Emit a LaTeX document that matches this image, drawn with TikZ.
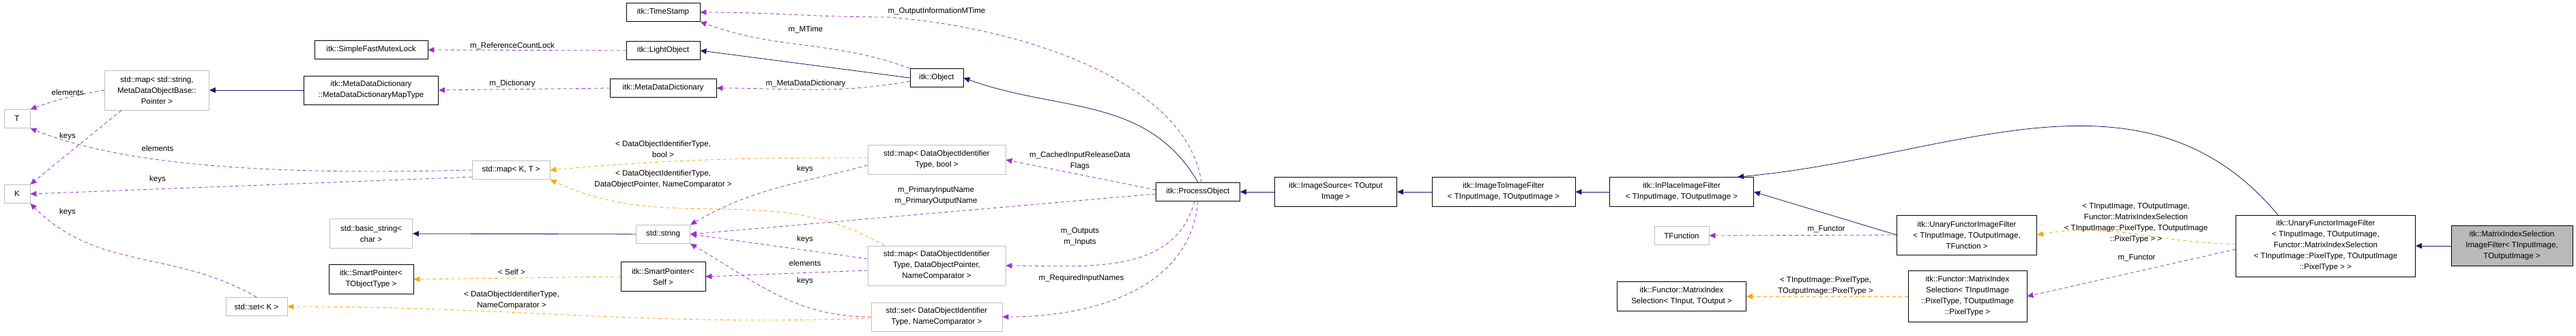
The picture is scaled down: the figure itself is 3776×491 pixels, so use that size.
\documentclass[tikz,border=0pt]{standalone}
\usepackage{fontspec}
\setmainfont{Liberation Sans}
\usetikzlibrary{arrows.meta}
\definecolor{navy}{HTML}{191970}
\definecolor{usecol}{HTML}{9A32CD}
\definecolor{tmplcol}{HTML}{FFA500}
\definecolor{undoccol}{HTML}{BFBFBF}

\begin{document}
\begin{tikzpicture}[x=1pt, y=-1pt, font=\fontsize{11.5}{16}\selectfont,
    box/.style = {draw, rectangle, align=center, inner sep=0pt, line width=0.9pt},
    doc/.style = {box, black},
    undoc/.style = {box, draw=undoccol},
    inh/.style = {navy, line width=0.8pt, -{Triangle[length=9pt,width=8pt]}},
    use/.style = {usecol, dashed, dash pattern=on 5pt off 4pt, line width=0.8pt, -{Triangle[length=9pt,width=8pt]}},
    tmpl/.style = {tmplcol, dashed, dash pattern=on 5pt off 4pt, line width=0.8pt, -{Triangle[length=9pt,width=8pt]}},
    lbl/.style = {align=center, inner sep=0pt}]

    \useasboundingbox (0,0) rectangle (3776,491);

    % left part
    \node[undoc, minimum width=38, minimum height=27] (T) at (25,174) {T};
    \node[undoc, minimum width=153, minimum height=58] (mapstr) at (230,132) {std::map< std::string,\\MetaDataObjectBase::\\Pointer >};
    \node[undoc, minimum width=38, minimum height=27] (K) at (25,284) {K};
    \node[doc, minimum width=166, minimum height=27] (mutex) at (544,73) {itk::SimpleFastMutexLock};
    \node[doc, minimum width=197, minimum height=42] (mddmap) at (544,132) {itk::MetaDataDictionary\\::MetaDataDictionaryMapType};
    \node[undoc, minimum width=114, minimum height=27] (mapkt) at (749,249) {std::map< K, T >};
    \node[undoc, minimum width=121, minimum height=43] (bstr) at (544,342) {std::basic\_string<\\char >};
    \node[doc, minimum width=124, minimum height=43] (sptr) at (544,409) {itk::SmartPointer<\\TObjectType >};
    \node[undoc, minimum width=90, minimum height=27] (setk) at (376,449) {std::set< K >};

    % middle part
    \node[doc, minimum width=108, minimum height=27] (tstamp) at (972,18) {itk::TimeStamp};
    \node[doc, minimum width=108, minimum height=27] (light) at (972,74) {itk::LightObject};
    \node[doc, minimum width=156, minimum height=27] (mdd) at (972,129) {itk::MetaDataDictionary};
    \node[doc, minimum width=78, minimum height=27] (obj) at (1373,114) {itk::Object};
    \node[undoc, minimum width=79, minimum height=27] (str) at (972,343) {std::string};
    \node[doc, minimum width=124, minimum height=43] (sptrself) at (972,405) {itk::SmartPointer<\\Self >};
    \node[undoc, minimum width=202, minimum height=43] (mapbool) at (1373,234) {std::map< DataObjectIdentifier\\Type, bool >};
    \node[undoc, minimum width=202, minimum height=58] (mapdop) at (1373,389) {std::map< DataObjectIdentifier\\Type, DataObjectPointer,\\NameComparator >};
    \node[undoc, minimum width=192, minimum height=42] (setdoi) at (1373,464) {std::set< DataObjectIdentifier\\Type, NameComparator >};

    % right part
    \node[doc, minimum width=123, minimum height=27] (po) at (1756,281) {itk::ProcessObject};
    \node[doc, minimum width=179, minimum height=43] (isrc) at (1958,281) {itk::ImageSource< TOutput\\Image >};
    \node[doc, minimum width=210, minimum height=43] (i2i) at (2204,281) {itk::ImageToImageFilter\\< TInputImage, TOutputImage >};
    \node[doc, minimum width=211, minimum height=43] (inplace) at (2465,281) {itk::InPlaceImageFilter\\< TInputImage, TOutputImage >};
    \node[undoc, minimum width=80, minimum height=27] (tfunc) at (2465,345) {TFunction};
    \node[doc, minimum width=189, minimum height=43] (mis) at (2465,434) {itk::Functor::MatrixIndex\\Selection< TInput, TOutput >};
    \node[doc, minimum width=205, minimum height=58] (uftf) at (2883,344) {itk::UnaryFunctorImageFilter\\< TInputImage, TOutputImage,\\TFunction >};
    \node[doc, minimum width=174, minimum height=75] (fmis) at (2884,434) {itk::Functor::MatrixIndex\\Selection< TInputImage\\::PixelType, TOutputImage\\::PixelType >};
    \node[doc, minimum width=263, minimum height=90] (ufmis) at (3409,360) {itk::UnaryFunctorImageFilter\\< TInputImage, TOutputImage,\\Functor::MatrixIndexSelection\\< TInputImage::PixelType, TOutputImage\\::PixelType > >};
    \node[doc, fill=gray!55, minimum width=178, minimum height=59] (misif) at (3682,360) {itk::MatrixIndexSelection\\ImageFilter< TInputImage,\\TOutputImage >};

    % inheritance
    \draw[inh] (mddmap) -- (mapstr);
    \draw[inh] (obj.west) -- (light.east);
    \draw[inh] (po.north) to[out=120,in=-20] (obj.east);
    \draw[inh] (str) -- (bstr);
    \draw[inh] (isrc) -- (po);
    \draw[inh] (i2i) -- (isrc);
    \draw[inh] (inplace) -- (i2i);
    \draw[inh] (uftf.west) -- (inplace.east);
    \draw[inh] (ufmis.north) ++(-70,0) to[out=130,in=5] (inplace.15);
    \draw[inh] (misif) -- (ufmis);

    % usage
    \draw[use] (mapstr.west) to[out=190,in=20] (T.north east);
    \draw[use] (mapstr.south west) ++(25,0) -- (K.north east);
    \draw[use] (mapkt.west) .. controls (450,255) and (200,250) .. (T.south east);
    \draw[use] (mapkt.190) -- (K.east);
    \draw[use] (setk.north) to[out=150,in=-45] (K.south east);
    \draw[use] (light.west) -- (mutex.east);
    \draw[use] (mdd.west) -- (mddmap.east);
    \draw[use] (obj.north west) to[out=160,in=-20] (tstamp.south east);
    \draw[use] (obj.west) ++(0,5) to[out=190,in=0] (mdd.east);
    \draw[use] (po.north) ++(5,0) .. controls (1740,120) and (1500,40) .. (1300,25) to[out=180,in=0] (tstamp.east);
    \draw[use] (po.west) ++(0,-3) -- (mapbool.east);
    \draw[use] (po.west) ++(0,3) -- (str.east);
    \draw[use] (po.south) ++(-5,0) to[out=-105,in=0] (mapdop.east);
    \draw[use] (po.south) to[out=-95,in=0] (setdoi.east);
    \draw[use] (mapbool.west) ++(0,8) to[out=195,in=30] (str.north east);
    \draw[use] (mapdop.west) ++(0,-10) -- (str.east);
    \draw[use] (mapdop.west) ++(0,7) -- (sptrself.east);
    \draw[use] (setdoi.west) to[out=180,in=-30] (str.south east);
    \draw[use] (uftf.west) -- (tfunc.east);
    \draw[use] (ufmis.west) ++(0,5) -- (fmis.east);

    % template instances
    \draw[tmpl] (mapbool.west) ++(0,-3) to[out=180,in=5] (mapkt.east);
    \draw[tmpl] (mapdop.north west) ++(25,0) to[out=150,in=-25] (mapkt.south east);
    \draw[tmpl] (setdoi.west) ++(0,2) to[out=182,in=0] (setk.east);
    \draw[tmpl] (sptrself.west) -- (sptr.east);
    \draw[tmpl] (ufmis.west) ++(0,-3) to[out=180,in=10] (uftf.east);
    \draw[tmpl] (fmis.west) -- (mis.east);

    % labels
    \node[lbl] (l1) at (99,135) {elements};
    \node[lbl] (l2) at (99,200) {keys};
    \node[lbl] (l3) at (231,217) {elements};
    \node[lbl] (l4) at (231,263) {keys};
    \node[lbl] (l5) at (99,311) {keys};
    \node[lbl] (l6) at (751,67) {m\_ReferenceCountLock};
    \node[lbl] (l7) at (751,123) {m\_Dictionary};
    \node[lbl] (l8) at (1181,43) {m\_MTime};
    \node[lbl] (l9) at (1181,123) {m\_MetaDataDictionary};
    \node[lbl] (l10) at (1373,17) {m\_OutputInformationMTime};
    \node[lbl] (l11) at (972,218) {< DataObjectIdentifierType,\\bool >};
    \node[lbl] (l12) at (972,263) {< DataObjectIdentifierType,\\DataObjectPointer, NameComparator >};
    \node[lbl] (l13) at (1180,248) {keys};
    \node[lbl] (l14) at (1372,287) {m\_PrimaryInputName\\m\_PrimaryOutputName};
    \node[lbl] (l15) at (1180,351) {keys};
    \node[lbl] (l16) at (1180,385) {elements};
    \node[lbl] (l17) at (1180,412) {keys};
    \node[lbl] (l18) at (750,398) {< Self >};
    \node[lbl] (l19) at (750,440) {< DataObjectIdentifierType,\\NameComparator >};
    \node[lbl] (l20) at (1583,236) {m\_CachedInputReleaseData\\Flags};
    \node[lbl] (l21) at (1583,347) {m\_Outputs\\m\_Inputs};
    \node[lbl] (l22) at (1585,408) {m\_RequiredInputNames};
    \node[lbl] (l23) at (2677,336) {m\_Functor};
    \node[lbl] (l24) at (3131,327) {< TInputImage, TOutputImage,\\Functor::MatrixIndexSelection\\< TInputImage::PixelType, TOutputImage\\::PixelType > >};
    \node[lbl] (l25) at (3132,378) {m\_Functor};
    \node[lbl] (l26) at (2676,419) {< TInputImage::PixelType,\\TOutputImage::PixelType >};
\end{tikzpicture}
\end{document}
